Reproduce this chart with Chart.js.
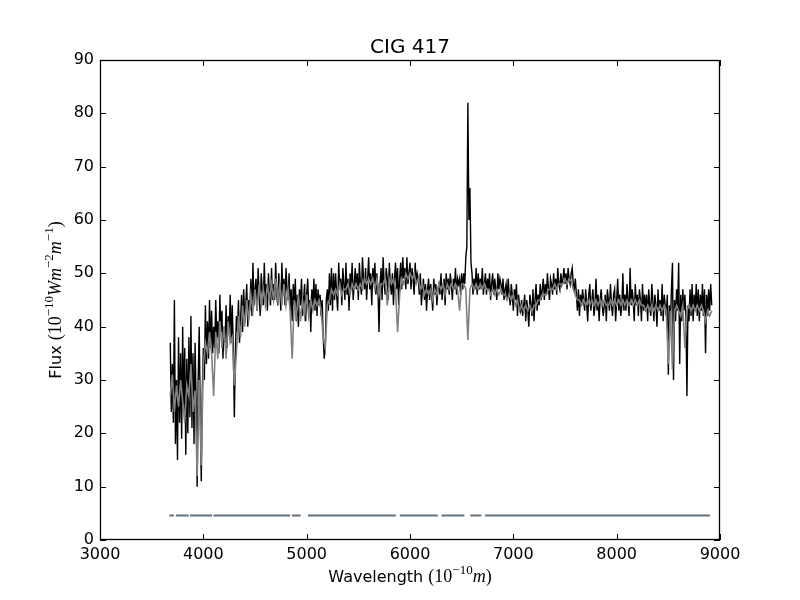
<!DOCTYPE html>
<html>
<head>
<meta charset="utf-8">
<script src="https://cdn.jsdelivr.net/npm/chart.js@4"></script>
<style>
  html, body { margin: 0; padding: 0; background: #fff; }
</style>
</head>
<body>
<canvas id="chart" width="800" height="600"></canvas>
<script>
// -------------------- data --------------------//
var chartTitle = "CIG 417";

// observed spectrum (black), 10 A sampling
var waveObs = [
  3680,3690,3700,3710,3720,3730,3740,3750,3760,3770,3780,3790,3800,3810,3820,3830,3840,3850,3860,3870,
  3880,3890,3900,3910,3920,3930,3940,3950,3960,3970,3980,3990,4000,4010,4020,4030,4040,4050,4060,4070,
  4080,4090,4100,4110,4120,4130,4140,4150,4160,4170,4180,4190,4200,4210,4220,4230,4240,4250,4260,4270,
  4280,4290,4300,4310,4320,4330,4340,4350,4360,4370,4380,4390,4400,4410,4420,4430,4440,4450,4460,4470,
  4480,4490,4500,4510,4520,4530,4540,4550,4560,4570,4580,4590,4600,4610,4620,4630,4640,4650,4660,4670,
  4680,4690,4700,4710,4720,4730,4740,4750,4760,4770,4780,4790,4800,4810,4820,4830,4840,4850,4860,4870,
  4880,4890,4900,4910,4920,4930,4940,4950,4960,4970,4980,4990,5000,5010,5020,5030,5040,5050,5060,5070,
  5080,5090,5100,5110,5120,5130,5140,5150,5160,5170,5180,5190,5200,5210,5220,5230,5240,5250,5260,5270,
  5280,5290,5300,5310,5320,5330,5340,5350,5360,5370,5380,5390,5400,5410,5420,5430,5440,5450,5460,5470,
  5480,5490,5500,5510,5520,5530,5540,5550,5560,5570,5580,5590,5600,5610,5620,5630,5640,5650,5660,5670,
  5680,5690,5700,5710,5720,5730,5740,5750,5760,5770,5780,5790,5800,5810,5820,5830,5840,5850,5860,5870,
  5880,5890,5900,5910,5920,5930,5940,5950,5960,5970,5980,5990,6000,6010,6020,6030,6040,6050,6060,6070,
  6080,6090,6100,6110,6120,6130,6140,6150,6160,6170,6180,6190,6200,6210,6220,6230,6240,6250,6260,6270,
  6280,6290,6300,6310,6320,6330,6340,6350,6360,6370,6380,6390,6400,6410,6420,6430,6440,6450,6460,6470,
  6480,6490,6500,6510,6520,6530,6540,6550,6560,6570,6580,6590,6600,6610,6620,6630,6640,6650,6660,6670,
  6680,6690,6700,6710,6720,6730,6740,6750,6760,6770,6780,6790,6800,6810,6820,6830,6840,6850,6860,6870,
  6880,6890,6900,6910,6920,6930,6940,6950,6960,6970,6980,6990,7000,7010,7020,7030,7040,7050,7060,7070,
  7080,7090,7100,7110,7120,7130,7140,7150,7160,7170,7180,7190,7200,7210,7220,7230,7240,7250,7260,7270,
  7280,7290,7300,7310,7320,7330,7340,7350,7360,7370,7380,7390,7400,7410,7420,7430,7440,7450,7460,7470,
  7480,7490,7500,7510,7520,7530,7540,7550,7560,7570,7580,7590,7600,7610,7620,7630,7640,7650,7660,7670,
  7680,7690,7700,7710,7720,7730,7740,7750,7760,7770,7780,7790,7800,7810,7820,7830,7840,7850,7860,7870,
  7880,7890,7900,7910,7920,7930,7940,7950,7960,7970,7980,7990,8000,8010,8020,8030,8040,8050,8060,8070,
  8080,8090,8100,8110,8120,8130,8140,8150,8160,8170,8180,8190,8200,8210,8220,8230,8240,8250,8260,8270,
  8280,8290,8300,8310,8320,8330,8340,8350,8360,8370,8380,8390,8400,8410,8420,8430,8440,8450,8460,8470,
  8480,8490,8500,8510,8520,8530,8540,8550,8560,8570,8580,8590,8600,8610,8620,8630,8640,8650,8660,8670,
  8680,8690,8700,8710,8720,8730,8740,8750,8760,8770,8780,8790,8800,8810,8820,8830,8840,8850,8860,8870,
  8880,8890,8900,8910,8920
];
var fluxObs = [
  37,24,33,22,45,18,30,15,38,22,35,19,40,24,36,16,34,20,38,23,
  42,21,35,18,37,26,10,30,40,24,11,28,36,30,44,33,41,34,45,36,
  43,35,40,36,45,38,41,35,46,39,43,34,40,37,44,36,42,39,46,37,
  44,36,23,35,42,39,45,37,41,46,39,47,42,44,48,40,45,43,49,42,
  52,44,47,49,43,51,46,42,50,47,44,52,45,48,43,50,46,44,51,45,
  48,45,52,46,44,50,47,43,52,46,49,44,51,47,45,50,43,47,41,48,
  44,49,41,46,40,47,44,49,42,45,48,41,46,49,43,45,39,47,44,49,
  43,48,42,47,44,46,42,45,38,34,36,45,47,43,50,44,51,43,50,45,
  50,46,43,52,47,49,44,51,48,45,52,46,49,43,50,47,52,45,48,51,
  47,50,45,52,48,46,53,49,47,51,45,49,53,47,50,44,51,48,52,46,
  50,47,39,48,51,45,53,48,46,51,49,45,52,48,46,50,44,49,52,47,
  51,44,49,52,47,53,49,51,47,53,48,50,52,47,51,49,46,52,48,50,
  49,46,50,44,47,49,45,48,43,47,49,45,48,46,43,49,46,48,44,47,
  48,46,50,45,47,49,44,50,47,49,46,50,48,45,49,47,51,46,49,48,
  49,46,50,47,50,48,53,55,82,60,66,52,50,46,49,47,51,46,50,47,
  49,47,51,46,48,50,46,49,47,50,45,48,50,46,49,47,45,50,47,49,
  48,46,49,45,47,48,45,49,46,44,48,46,43,47,45,48,42,46,44,43,
  45,42,44,46,41,45,43,40,46,44,42,47,41,45,48,43,46,44,48,45,
  47,49,45,48,46,50,47,45,49,48,46,50,47,49,46,51,48,47,50,48,
  49,51,48,50,47,51,49,48,50,51,48,47,49,46,43,47,42,46,44,47,
  45,43,47,44,41,46,48,43,45,47,42,44,49,43,46,41,45,47,44,42,
  44,46,41,47,45,43,48,44,42,46,47,41,45,49,43,46,42,44,50,43,
  46,43,48,45,42,51,44,47,45,41,48,44,46,42,47,45,41,48,43,46,
  43,46,41,47,44,42,48,45,41,46,44,40,47,43,45,42,48,41,46,44,
  42,46,31,44,40,47,52,30,45,41,47,43,52,33,46,41,47,43,46,42,
  27,44,41,47,42,48,41,46,43,48,42,47,41,46,43,48,42,47,35,46,
  42,47,43,48,44
];

// model spectrum (gray), 20 A sampling
var waveModel = [
  3680,3700,3720,3740,3760,3780,3800,3820,3840,3860,
  3880,3900,3920,3940,3960,3980,4000,4020,4040,4060,
  4080,4100,4120,4140,4160,4180,4200,4220,4240,4260,
  4280,4300,4320,4340,4360,4380,4400,4420,4440,4460,
  4480,4500,4520,4540,4560,4580,4600,4620,4640,4660,
  4680,4700,4720,4740,4760,4780,4800,4820,4840,4860,
  4880,4900,4920,4940,4960,4980,5000,5020,5040,5060,
  5080,5100,5120,5140,5160,5180,5200,5220,5240,5260,
  5280,5300,5320,5340,5360,5380,5400,5420,5440,5460,
  5480,5500,5520,5540,5560,5580,5600,5620,5640,5660,
  5680,5700,5720,5740,5760,5780,5800,5820,5840,5860,
  5880,5900,5920,5940,5960,5980,6000,6020,6040,6060,
  6080,6100,6120,6140,6160,6180,6200,6220,6240,6260,
  6280,6300,6320,6340,6360,6380,6400,6420,6440,6460,
  6480,6500,6520,6540,6560,6580,6600,6620,6640,6660,
  6680,6700,6720,6740,6760,6780,6800,6820,6840,6860,
  6880,6900,6920,6940,6960,6980,7000,7020,7040,7060,
  7080,7100,7120,7140,7160,7180,7200,7220,7240,7260,
  7280,7300,7320,7340,7360,7380,7400,7420,7440,7460,
  7480,7500,7520,7540,7560,7580,7600,7620,7640,7660,
  7680,7700,7720,7740,7760,7780,7800,7820,7840,7860,
  7880,7900,7920,7940,7960,7980,8000,8020,8040,8060,
  8080,8100,8120,8140,8160,8180,8200,8220,8240,8260,
  8280,8300,8320,8340,8360,8380,8400,8420,8440,8460,
  8480,8500,8520,8540,8560,8580,8600,8620,8640,8660,
  8680,8700,8720,8740,8760,8780,8800,8820,8840,8860,
  8880,8900,8920
];
var fluxModel = [
  27,31,24,29,25,30,26,22,29,27,
  33,24,28,12,30,14,33,37,35,39,
  35,27,39,34,41,36,40,34,41,37,
  38,29,35,42,38,44,40,45,41,46,
  43,47,43,48,44,47,44,48,45,48,
  45,49,45,48,44,48,44,47,43,34,
  45,42,46,41,45,42,46,42,45,43,
  45,44,45,43,38,36,44,45,47,46,
  47,46,48,46,47,47,48,46,48,47,
  48,47,48,47,49,48,49,48,49,47,
  49,46,48,48,49,44,49,48,49,47,
  39,46,49,48,50,49,50,49,50,48,
  49,47,48,46,47,46,47,45,47,46,
  48,47,48,46,48,47,48,47,48,47,
  43,48,48,47,37.5,47,48,47,48,47,
  48,47,48,47,47,46,47,46,47,46,
  47,46,46,45,46,45,46,44,45,43,
  44,43,44,43,44,42.8,44,44,45,45,
  46,46,46,47,47,47,48,47,48,48,
  48,49,48,49,48.5,47,46,45,45,44,
  45,44,45,44,45,44,45,44,45,44,
  45,44,44,45,44,45,44,45,44,45,
  44,45,44,45,44,45,44,45,44,44,
  43,44,43,44,43,44,43,44,43,44,
  43,33,43,32,43,44,43,42,44,36,
  43,44,43,44,43,44,43,44,43,41,
  43,42,43
];

// fitted wavelength ranges (masked emission lines left out)
var maskStart = [3671, 3734, 3870, 4098, 4858, 5013, 5901, 6305, 6583, 6726];
var maskEnd   = [3716, 3858, 4084, 4841, 4941, 5863, 6269, 6526, 6691, 8903];
var maskLevel = 4.6;

var xTicks = [3000, 4000, 5000, 6000, 7000, 8000, 9000];
var yTicks = [0, 10, 20, 30, 40, 50, 60, 70, 80, 90];

// -------------------- build --------------------//
function toPoints(xs, ys) {
  return xs.map(function (x, i) { return { x: x, y: ys[i] }; });
}

var maskPoints = [];
maskStart.forEach(function (s, i) {
  if (i > 0) maskPoints.push({ x: (maskEnd[i - 1] + s) / 2, y: null });
  maskPoints.push({ x: s, y: maskLevel });
  maskPoints.push({ x: maskEnd[i], y: maskLevel });
});

var SANS = "'DejaVu Sans', sans-serif";
var SERIF = "'Liberation Serif', 'DejaVu Serif', serif";

// text made of several font runs (for the mathtext-like labels)
function drawRuns(ctx, runs, x, y) {
  var total = 0;
  runs.forEach(function (r) { ctx.font = r.font; r.w = ctx.measureText(r.text).width; total += r.w; });
  var cx = x - total / 2;
  runs.forEach(function (r) {
    ctx.font = r.font;
    ctx.fillText(r.text, cx, y - (r.rise || 0));
    cx += r.w;
  });
}

var big = "18px " + SERIF, it = "italic 18px " + SERIF, sup = "13px " + SERIF;
var xLabelRuns = [
  { text: "Wavelength ", font: "16px " + SANS },
  { text: "(10", font: big },
  { text: "\u221210", font: sup, rise: 8 },
  { text: "m", font: it },
  { text: ")", font: big }
];
var yLabelRuns = [
  { text: "Flux ", font: "16px " + SANS },
  { text: "(10", font: big },
  { text: "\u221210", font: sup, rise: 8 },
  { text: "Wm", font: it },
  { text: "\u22122", font: sup, rise: 8 },
  { text: "m", font: it },
  { text: "\u22121", font: sup, rise: 8 },
  { text: ")", font: big }
];

var framePlugin = {
  id: 'frame',
  afterDraw: function (chart) {
    var ctx = chart.ctx, a = chart.chartArea;
    var xs = chart.scales.x, ys = chart.scales.y;
    ctx.save();
    ctx.strokeStyle = '#000';
    ctx.lineWidth = 1;
    // inward ticks on all four sides
    ctx.beginPath();
    xTicks.forEach(function (v) {
      var px = Math.round(xs.getPixelForValue(v)) + 0.5;
      ctx.moveTo(px, a.bottom); ctx.lineTo(px, a.bottom - 6);
      ctx.moveTo(px, a.top); ctx.lineTo(px, a.top + 6);
    });
    yTicks.forEach(function (v) {
      var py = Math.round(ys.getPixelForValue(v)) + 0.5;
      ctx.moveTo(a.left, py); ctx.lineTo(a.left + 6, py);
      ctx.moveTo(a.right, py); ctx.lineTo(a.right - 6, py);
    });
    ctx.stroke();
    ctx.lineWidth = 1.3;
    ctx.strokeRect(Math.round(a.left) + 0.5, Math.round(a.top) + 0.5,
                   Math.round(a.right - a.left) - 1, Math.round(a.bottom - a.top) - 1);

    ctx.fillStyle = '#000';
    ctx.textBaseline = 'alphabetic';
    ctx.textAlign = 'left';
    ctx.font = "20px " + SANS;
    var tw = ctx.measureText(chartTitle).width;
    ctx.fillText(chartTitle, (a.left + a.right) / 2 - tw / 2, 53);

    drawRuns(ctx, xLabelRuns, (a.left + a.right) / 2, 582);

    ctx.translate(61, (a.top + a.bottom) / 2);
    ctx.rotate(-Math.PI / 2);
    drawRuns(ctx, yLabelRuns, 0, 0);
    ctx.restore();
  }
};

var ctx = document.querySelector('#chart').getContext('2d');
var chart = new Chart(ctx, {
  type: 'line',
  data: {
    datasets: [{
      label: 'model',
      data: toPoints(waveModel, fluxModel),
      borderColor: '#808080',
      borderWidth: 1.6,
      order: 0
    }, {
      label: 'observed',
      data: toPoints(waveObs, fluxObs),
      borderColor: '#000000',
      borderWidth: 1.4,
      order: 1
    }, {
      label: 'mask',
      data: maskPoints,
      borderColor: '#64707a',
      borderWidth: 2,
      spanGaps: false,
      order: 2
    }]
  },
  options: {
    responsive: false,
    animation: false,
    devicePixelRatio: 1,
    layout: { padding: { top: 60, right: 80, left: 0, bottom: 0 } },
    elements: { point: { radius: 0 }, line: { tension: 0, fill: false } },
    plugins: { legend: { display: false }, tooltip: { enabled: false }, title: { display: false } },
    scales: {
      x: {
        type: 'linear', min: 3000, max: 9000,
        afterFit: function (s) { s.height = 60; },
        afterBuildTicks: function (s) { s.ticks = xTicks.map(function (v) { return { value: v }; }); },
        grid: { display: false, drawTicks: false },
        border: { display: false },
        ticks: {
          color: '#000', padding: 5, maxRotation: 0, autoSkip: false,
          font: { family: SANS, size: 16 },
          callback: function (v) { return String(v); }
        }
      },
      y: {
        type: 'linear', min: 0, max: 90,
        afterFit: function (s) { s.width = 100; },
        afterBuildTicks: function (s) { s.ticks = yTicks.map(function (v) { return { value: v }; }); },
        grid: { display: false, drawTicks: false },
        border: { display: false },
        ticks: {
          color: '#000', padding: 6, autoSkip: false,
          font: { family: SANS, size: 16 },
          callback: function (v) { return String(v); }
        }
      }
    }
  },
  plugins: [framePlugin]
});
</script>
</body>
</html>
